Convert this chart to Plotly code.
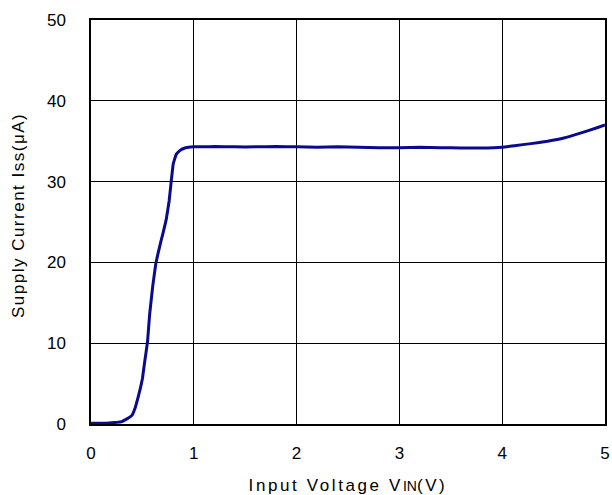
import plotly.graph_objects as go

# Supply current vs input voltage
vin = [0.0, 0.05, 0.10, 0.15, 0.20, 0.25, 0.30, 0.33, 0.36, 0.40, 0.43, 0.46, 0.48,
       0.50, 0.52, 0.55, 0.57, 0.60, 0.63, 0.65, 0.68, 0.70, 0.73, 0.76, 0.78, 0.80,
       0.83, 0.87, 0.90, 0.95, 1.00, 1.10, 1.20, 1.40, 1.60, 1.80, 2.00, 2.20, 2.40,
       2.60, 2.80, 3.00, 3.20, 3.40, 3.60, 3.80, 4.00, 4.12, 4.28, 4.44, 4.60, 4.76,
       4.93, 5.00]
iss = [0.1, 0.1, 0.1, 0.1, 0.15, 0.2, 0.3, 0.5, 0.7, 1.1, 2.0, 3.4, 4.4,
       5.6, 7.5, 10.2, 13.5, 17.0, 19.8, 21.0, 22.6, 23.6, 25.2, 27.6, 30.0, 32.2,
       33.4, 33.9, 34.1, 34.25, 34.3, 34.3, 34.35, 34.3, 34.3, 34.35, 34.3, 34.25, 34.3,
       34.25, 34.2, 34.2, 34.25, 34.2, 34.15, 34.15, 34.25, 34.45, 34.7, 35.0, 35.4, 36.0,
       36.7, 37.0]

x_ticks = [0, 1, 2, 3, 4, 5]
y_ticks = [0, 10, 20, 30, 40, 50]

FONT = "Liberation Sans, Arial"

fig = go.Figure()
fig.add_trace(go.Scatter(
    x=vin, y=iss, mode="lines",
    line=dict(color="#0a0a8c", width=3, shape="spline", smoothing=0.25),
    showlegend=False, hoverinfo="skip",
))

axis_common = dict(
    showgrid=True, gridcolor="black", gridwidth=1,
    showline=True, linecolor="black", linewidth=1.5, mirror=True,
    zeroline=False, ticks="", automargin=False,
    tickfont=dict(family=FONT, size=17, color="black"),
)

fig.update_xaxes(
    range=[0, 5], tickvals=x_ticks, ticktext=[str(v) for v in x_ticks],
    ticklabelstandoff=13,
    title=dict(
        text="<span style='letter-spacing:2.6px'>Input Voltage V</span>"
             "<span style='font-size:14px;letter-spacing:0px'>IN</span>"
             "<span style='letter-spacing:2.6px'>(V)</span>",
        font=dict(family=FONT, size=17, color="black"),
        standoff=19,
    ),
    **axis_common,
)
fig.update_yaxes(
    range=[0, 50], tickvals=y_ticks, ticktext=[str(v) for v in y_ticks],
    ticklabelstandoff=20,
    **axis_common,
)

# Vertical axis label, placed as a rotated annotation
fig.add_annotation(
    text="<span style='letter-spacing:1.5px'>Supply Current Iss(μA)</span>",
    xref="paper", yref="paper", x=-0.141, y=0.516,
    xanchor="center", yanchor="middle", textangle=-90, showarrow=False,
    font=dict(family=FONT, size=17, color="black"),
)

fig.update_layout(
    width=612, height=495,
    margin=dict(l=91, r=7, t=20, b=71),
    paper_bgcolor="white", plot_bgcolor="white",
)

fig.write_html("out.html")
